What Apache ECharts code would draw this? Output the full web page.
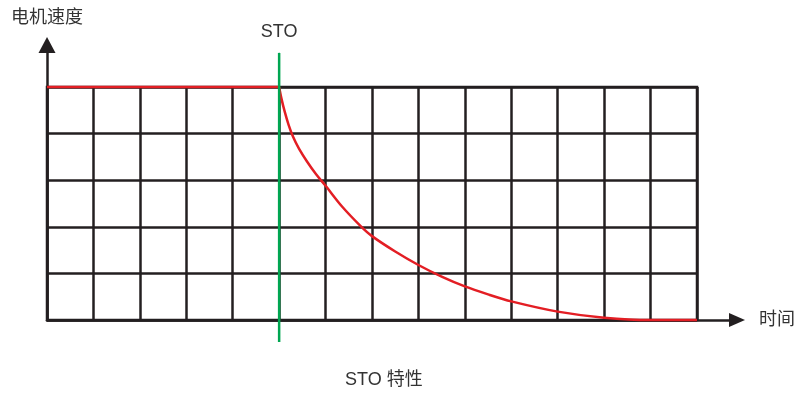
<!DOCTYPE html>
<html>
<head>
<meta charset="utf-8">
<script src="https://cdn.jsdelivr.net/npm/echarts@6/dist/echarts.min.js"></script>
<style>html,body{margin:0;padding:0;background:#fff}#c{width:800px;height:400px}</style>
</head>
<body>
<div id="c"></div>
<script>
// Data
const yAxisName = '电机速度';
const xAxisName = '时间';
const stoLabel = 'STO';
const chartTitle = 'STO 特性';
const xMax = 14;          // grid columns
const yMax = 5;           // grid rows
const stoTime = 5;        // STO trigger time (column units)
const flatX = [0, 5];
const flatY = [5, 5];
const decayX = [5, 5.05, 5.12, 5.2, 5.3, 5.43, 5.6, 5.8, 6, 6.35, 6.75, 7, 7.5, 8, 8.5, 9, 9.5, 10, 11, 12, 13, 14];
const decayY = [5, 4.75, 4.47, 4.2, 3.93, 3.67, 3.4, 3.12, 2.88, 2.44, 2.02, 1.8, 1.47, 1.18, 0.93, 0.72, 0.55, 0.4, 0.18, 0.05, 0, 0];

const ink = '#231f20';
const red = '#e31e24';
const green = '#00a651';
const font = '"Liberation Sans", "Noto Sans CJK SC", sans-serif';
const zip = (xs, ys) => xs.map((x, i) => [x, ys[i]]);

const hidden = {
  axisLine: { show: false }, axisTick: { show: false },
  axisLabel: { show: false }, splitLine: { show: false }
};

const chart = echarts.init(document.getElementById('c'), null, { renderer: 'canvas' });
chart.setOption({
  animation: false,
  textStyle: { fontFamily: font },
  title: {
    text: chartTitle, left: 340, top: 366,
    textStyle: { fontSize: 18, fontWeight: 'normal', color: '#333', fontFamily: font }
  },
  grid: [
    { left: 47, right: 63, top: 45, bottom: 80 },
    { left: 47, right: 103, top: 87, bottom: 80, show: true, borderColor: ink, borderWidth: 2.5, backgroundColor: 'transparent' },
    { left: 47, right: 103, top: 53, bottom: 58 }
  ],
  xAxis: [
    {
      gridIndex: 0, type: 'value', min: 0, max: 1,
      axisLine: { show: true, symbol: ['none', 'triangle'], symbolSize: [14, 16], lineStyle: { color: ink, width: 2.5 } },
      axisTick: { show: false }, axisLabel: { show: false }, splitLine: { show: false },
      name: xAxisName, nameLocation: 'end', nameGap: 22,
      nameTextStyle: { fontSize: 18, color: '#333', fontFamily: font }
    },
    {
      gridIndex: 1, type: 'value', min: 0, max: xMax, interval: 1,
      axisLine: { show: false }, axisTick: { show: false }, axisLabel: { show: false },
      splitLine: { show: true, lineStyle: { color: ink, width: 2.5 } }
    },
    Object.assign({ gridIndex: 2, type: 'value', min: 0, max: xMax }, hidden)
  ],
  yAxis: [
    {
      gridIndex: 0, type: 'value', min: 0, max: 1,
      axisLine: { show: true, symbol: ['none', 'triangle'], symbolSize: [17, 16], lineStyle: { color: ink, width: 2.5 } },
      axisTick: { show: false }, axisLabel: { show: false }, splitLine: { show: false },
      name: yAxisName, nameLocation: 'end', nameGap: 18,
      nameTextStyle: { fontSize: 18, color: '#333', fontFamily: font, align: 'center' }
    },
    {
      gridIndex: 1, type: 'value', min: 0, max: yMax, interval: 1,
      axisLine: { show: false }, axisTick: { show: false }, axisLabel: { show: false },
      splitLine: { show: true, lineStyle: { color: ink, width: 2.5 } }
    },
    Object.assign({ gridIndex: 2, type: 'value', min: 0, max: 1 }, hidden)
  ],
  series: [
    {
      type: 'line', xAxisIndex: 1, yAxisIndex: 1, data: zip(flatX, flatY),
      symbol: 'none', clip: false, z: 5,
      lineStyle: { color: red, width: 2.5 }
    },
    {
      type: 'line', xAxisIndex: 1, yAxisIndex: 1, data: zip(decayX, decayY),
      symbol: 'none', clip: false, z: 5, smooth: 0.3,
      lineStyle: { color: red, width: 2.5 }
    },
    {
      type: 'line', xAxisIndex: 2, yAxisIndex: 2,
      data: [[stoTime, 0], [stoTime, 1]],
      symbol: 'none', clip: false, z: 10,
      lineStyle: { color: green, width: 2.5 },
      markPoint: {
        symbol: 'circle', symbolSize: 1,
        itemStyle: { color: green },
        label: { show: true, position: 'top', distance: 11, formatter: stoLabel, fontSize: 18, color: '#333', fontFamily: font },
        data: [{ coord: [stoTime, 1] }]
      }
    }
  ]
});
</script>
</body>
</html>
